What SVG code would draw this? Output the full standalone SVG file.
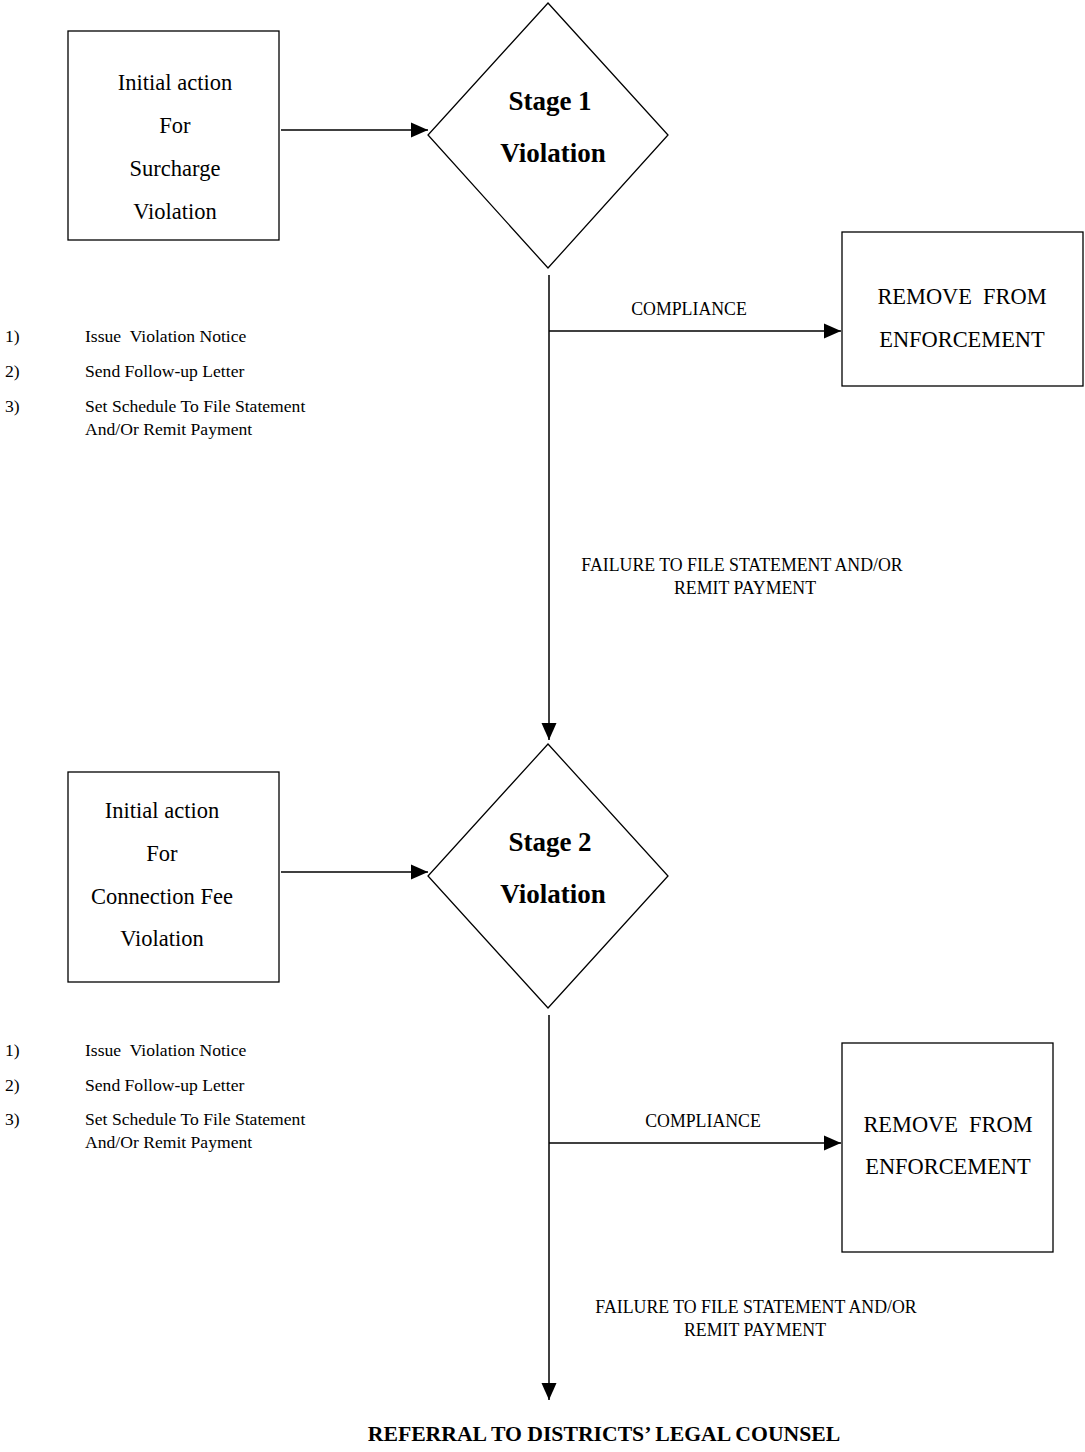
<svg xmlns="http://www.w3.org/2000/svg" width="1085" height="1452" viewBox="0 0 1085 1452">
<style>
.shape{fill:#fff;stroke:#000;stroke-width:1.3}
.conn{fill:none;stroke:#000;stroke-width:1.5}
text{font-family:"Liberation Serif","Times New Roman",serif;fill:#000}
.box{font-size:22.5px;text-anchor:middle}
.stage{font-size:27px;font-weight:bold;text-anchor:middle}
.lbl{font-size:17.8px;text-anchor:middle}
.list{font-size:17.6px}
.rem{font-size:22.4px;text-anchor:middle}
.ref{font-size:21.7px;font-weight:bold;text-anchor:middle}
</style>
<defs>
<marker id="ah" markerUnits="userSpaceOnUse" markerWidth="18" markerHeight="18" viewBox="0 0 18 18" refX="17" refY="9" orient="auto">
<path d="M0,1.5 L17,9 L0,16.5 Z" fill="#000"/>
</marker>
</defs>

<g id="connectors">
<line class="conn" x1="281" y1="130" x2="428" y2="130" marker-end="url(#ah)"/>
<line class="conn" x1="549" y1="275" x2="549" y2="740" marker-end="url(#ah)"/>
<line class="conn" x1="549" y1="331" x2="841" y2="331" marker-end="url(#ah)"/>
<line class="conn" x1="281" y1="872" x2="428" y2="872" marker-end="url(#ah)"/>
<line class="conn" x1="549" y1="1015" x2="549" y2="1400" marker-end="url(#ah)"/>
<line class="conn" x1="549" y1="1143" x2="841" y2="1143" marker-end="url(#ah)"/>
<text class="lbl" x="689" y="315">COMPLIANCE</text>
<text class="lbl" x="742" y="571">FAILURE TO FILE STATEMENT AND/OR</text>
<text class="lbl" x="745" y="594">REMIT PAYMENT</text>
<text class="lbl" x="703" y="1127">COMPLIANCE</text>
<text class="lbl" x="756" y="1313">FAILURE TO FILE STATEMENT AND/OR</text>
<text class="lbl" x="755" y="1336">REMIT PAYMENT</text>
</g>

<g id="initial1">
<rect class="shape" x="68" y="31" width="211" height="209"/>
<text class="box" x="175" y="90">Initial action</text>
<text class="box" x="175" y="133">For</text>
<text class="box" x="175" y="176">Surcharge</text>
<text class="box" x="175" y="219">Violation</text>
</g>

<g id="stage1">
<polygon class="shape" points="548,3 668,135 548,268 428,135"/>
<text class="stage" x="550" y="110">Stage 1</text>
<text class="stage" x="553" y="162">Violation</text>
</g>

<g id="remove1">
<rect class="shape" x="842" y="232" width="241" height="154"/>
<text class="rem" x="962" y="304" xml:space="preserve">REMOVE  FROM</text>
<text class="rem" x="962" y="347">ENFORCEMENT</text>
</g>

<g id="list1" class="list">
<text x="5" y="342">1)</text><text x="85" y="342" xml:space="preserve">Issue  Violation Notice</text>
<text x="5" y="377">2)</text><text x="85" y="377">Send Follow-up Letter</text>
<text x="5" y="412">3)</text><text x="85" y="412">Set Schedule To File Statement</text>
<text x="85" y="435">And/Or Remit Payment</text>
</g>

<g id="initial2">
<rect class="shape" x="68" y="772" width="211" height="210"/>
<text class="box" x="162" y="818">Initial action</text>
<text class="box" x="162" y="861">For</text>
<text class="box" x="162" y="904">Connection Fee</text>
<text class="box" x="162" y="946">Violation</text>
</g>

<g id="stage2">
<polygon class="shape" points="548,744 668,876 548,1008 428,876"/>
<text class="stage" x="550" y="851">Stage 2</text>
<text class="stage" x="553" y="903">Violation</text>
</g>

<g id="remove2">
<rect class="shape" x="842" y="1043" width="211" height="209"/>
<text class="rem" x="948" y="1132" xml:space="preserve">REMOVE  FROM</text>
<text class="rem" x="948" y="1174">ENFORCEMENT</text>
</g>

<g id="list2" class="list">
<text x="5" y="1056">1)</text><text x="85" y="1056" xml:space="preserve">Issue  Violation Notice</text>
<text x="5" y="1091">2)</text><text x="85" y="1091">Send Follow-up Letter</text>
<text x="5" y="1125">3)</text><text x="85" y="1125">Set Schedule To File Statement</text>
<text x="85" y="1148">And/Or Remit Payment</text>
</g>

<g id="referral">
<text class="ref" x="604" y="1441">REFERRAL TO DISTRICTS’ LEGAL COUNSEL</text>
</g>
</svg>
